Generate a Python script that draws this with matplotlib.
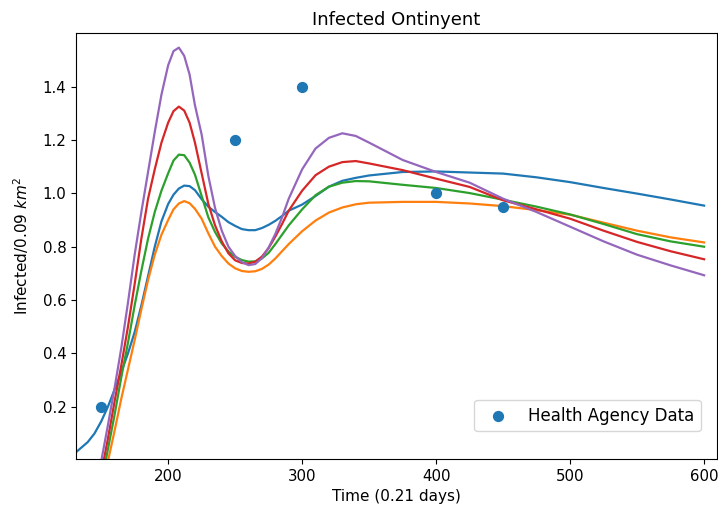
import matplotlib
matplotlib.use("Agg")
import matplotlib.pyplot as plt

# dados
t = [131, 140, 145, 150, 155, 160, 165, 170, 175, 180, 185, 190, 195, 200,
     204, 208, 212, 216, 220, 225, 230, 235, 240, 245, 250, 255, 260, 265,
     270, 275, 280, 285, 290, 300, 310, 320, 330, 340, 350, 375, 400, 425,
     450, 475, 500, 525, 550, 575, 600]

inf_azul = [0.029, 0.068, 0.10, 0.145, 0.20, 0.265, 0.33, 0.40, 0.48, 0.58,
            0.69, 0.80, 0.895, 0.96, 0.995, 1.018, 1.029, 1.027, 1.012,
            0.978, 0.95, 0.93, 0.912, 0.892, 0.878, 0.866, 0.862, 0.862,
            0.87, 0.882, 0.897, 0.915, 0.935, 0.958, 0.99, 1.025, 1.047,
            1.058, 1.067, 1.08, 1.082, 1.078, 1.074, 1.06, 1.042, 1.02,
            0.999, 0.977, 0.954]

inf_laranja = [-0.45, -0.35, -0.25, -0.13, -0.005, 0.11, 0.23, 0.34, 0.45,
               0.565, 0.675, 0.77, 0.845, 0.90, 0.94, 0.962, 0.971, 0.963,
               0.942, 0.905, 0.85, 0.80, 0.765, 0.737, 0.719, 0.709, 0.706,
               0.708, 0.717, 0.733, 0.756, 0.783, 0.81, 0.858, 0.898, 0.928,
               0.947, 0.959, 0.965, 0.968, 0.968, 0.962, 0.952, 0.937, 0.92,
               0.89, 0.86, 0.835, 0.816]

inf_verde = [-0.42, -0.32, -0.21, -0.09, 0.04, 0.17, 0.31, 0.44, 0.58, 0.71,
             0.83, 0.93, 1.01, 1.075, 1.123, 1.145, 1.143, 1.115, 1.07, 0.99,
             0.91, 0.855, 0.812, 0.782, 0.762, 0.75, 0.744, 0.745, 0.756,
             0.777, 0.81, 0.845, 0.88, 0.94, 0.993, 1.025, 1.04, 1.046, 1.045,
             1.032, 1.02, 1.001, 0.976, 0.95, 0.921, 0.885, 0.847, 0.82, 0.80]

inf_vermelho = [-0.4, -0.3, -0.18, -0.05, 0.08, 0.22, 0.355, 0.50, 0.66,
                0.83, 0.98, 1.09, 1.19, 1.265, 1.308, 1.325, 1.31, 1.265,
                1.19, 1.075, 0.96, 0.88, 0.82, 0.775, 0.749, 0.739, 0.737,
                0.744, 0.763, 0.795, 0.838, 0.885, 0.935, 1.01, 1.068, 1.10,
                1.117, 1.121, 1.112, 1.087, 1.055, 1.024, 0.974, 0.94, 0.905,
                0.86, 0.818, 0.783, 0.753]

inf_roxo = [-0.4, -0.28, -0.15, -0.005, 0.13, 0.27, 0.42, 0.59, 0.77, 0.93,
            1.08, 1.23, 1.37, 1.48, 1.533, 1.546, 1.515, 1.445, 1.33, 1.22,
            1.065, 0.945, 0.86, 0.80, 0.765, 0.742, 0.731, 0.735, 0.757,
            0.797, 0.848, 0.91, 0.98, 1.09, 1.168, 1.208, 1.225, 1.215, 1.19,
            1.125, 1.08, 1.04, 0.98, 0.93, 0.875, 0.82, 0.77, 0.73, 0.693]

dados_t = [150, 250, 300, 400, 450]
dados_inf = [0.2, 1.2, 1.4, 1.0, 0.95]

fig = plt.figure(figsize=(7.18, 5.11), dpi=100)
ax = fig.add_subplot(111)
fig.subplots_adjust(left=0.106, right=0.998, bottom=0.102, top=0.935)

ax.plot(t, inf_azul, color='#1f77b4', lw=1.6)
ax.plot(t, inf_laranja, color='#ff7f0e', lw=1.6)
ax.plot(t, inf_verde, color='#2ca02c', lw=1.6)
ax.plot(t, inf_vermelho, color='#d62728', lw=1.6)
ax.plot(t, inf_roxo, color='#9467bd', lw=1.6)
ax.scatter(dados_t, dados_inf, s=50, color='#1f77b4', label='Health Agency Data', zorder=3)

ax.set_xlim(131.3, 609.3)
ax.set_ylim(0.005, 1.6)
ax.set_xticks([200, 300, 400, 500, 600])
ax.set_yticks([0.2, 0.4, 0.6, 0.8, 1.0, 1.2, 1.4])
ax.tick_params(labelsize=10.8)

ax.set_title('Infected Ontinyent', fontsize=13)
ax.set_xlabel('Time (0.21 days)', fontsize=11)
ax.set_ylabel('Infected/0.09 $km^2$', fontsize=11)
ax.yaxis.set_label_coords(-0.07, 0.5)
ax.legend(loc='lower right', bbox_to_anchor=(0.975, 0.065), fontsize=12,
          borderaxespad=0)

fig.savefig('out.png', dpi=100)
